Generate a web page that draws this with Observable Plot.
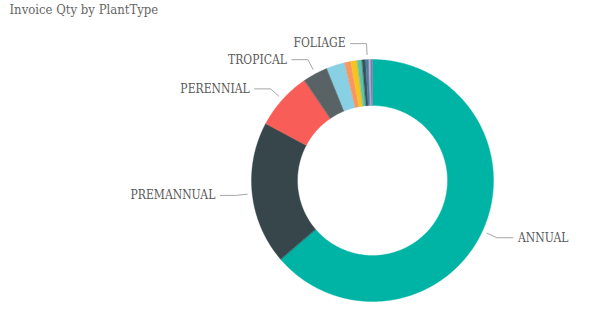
<!DOCTYPE html>
<html><head><meta charset="utf-8">
<script src="https://cdn.jsdelivr.net/npm/d3@7"></script>
<script src="https://cdn.jsdelivr.net/npm/@observablehq/plot@0.6"></script>
<style>body{margin:0;background:#fff} svg{display:block}</style>
</head><body><div id="chart"></div>
<script>
const chartTitle = "Invoice Qty by PlantType";
const plantTypes = ["ANNUAL","PREMANNUAL","PERENNIAL","TROPICAL","TYPE 5","TYPE 6","TYPE 7","TYPE 8","TYPE 9","FOLIAGE","TYPE 11","TYPE 12"];
const invoiceQty = [6369, 1908, 769, 336, 244, 81, 86, 64, 47, 44, 22, 25];
const sliceColors = ["#00b4a5","#37464a","#f95d58","#596366","#88d0e4","#f99463","#f6c41f","#5cc5ad","#3b4f58","#4a7da1","#bfb9de","#7d7ca6"];
const shownLabels = ["ANNUAL","PREMANNUAL","PERENNIAL","TROPICAL","FOLIAGE"];

const FONT = "'DejaVu Serif Condensed','DejaVu Serif',serif";
const R = 121, r0 = 75;
const data = plantTypes.map((name, i) => ({name, value: invoiceQty[i]}));
const arcs = d3.pie().sort(null).value(d => d.value)(data);
const pt = (rho, a) => ({x: rho * Math.sin(a), y: rho * Math.cos(a)});

const polys = [];
arcs.forEach(a => {
  const n = Math.max(2, Math.ceil((a.endAngle - a.startAngle) / 0.01));
  const outer = d3.range(n + 1).map(k => a.startAngle + (a.endAngle - a.startAngle) * k / n);
  outer.forEach(t => polys.push({name: a.data.name, ...pt(R, t)}));
  outer.slice().reverse().forEach(t => polys.push({name: a.data.name, ...pt(r0, t)}));
});

const leaders = [], labels = [];
arcs.filter(a => shownLabels.includes(a.data.name)).forEach(a => {
  const m = (a.startAngle + a.endAngle) / 2;
  const side = Math.sin(m) >= 0 ? 1 : -1;
  const p0 = pt(R + 5, m), p1 = pt(R + 16, m);
  const p2 = {x: p1.x + side * 16, y: p1.y};
  [p0, p1, p2].forEach(p => leaders.push({name: a.data.name, ...p}));
  labels.push({name: a.data.name, side, x: p2.x + side * 5, y: p2.y});
});

const chart = Plot.plot({
  width: 600, height: 311,
  margin: 0,
  x: {domain: [-372, 228], axis: null},
  y: {domain: [-131, 180], axis: null},
  color: {domain: plantTypes, range: sliceColors},
  style: {fontFamily: FONT, background: "#fff"},
  marks: [
    Plot.line(polys, {x: "x", y: "y", z: "name", fill: "name", stroke: "name", strokeWidth: 0.4, curve: "linear-closed"}),
    Plot.line(leaders, {x: "x", y: "y", z: "name", stroke: "#a6a6a6", strokeWidth: 1}),
    Plot.text(labels.filter(d => d.side > 0), {x: "x", y: "y", text: "name", textAnchor: "start", fontSize: 12, fill: "#595959"}),
    Plot.text(labels.filter(d => d.side < 0), {x: "x", y: "y", text: "name", textAnchor: "end", fontSize: 12, fill: "#595959"}),
    Plot.text([chartTitle], {frameAnchor: "top-left", dx: 9, dy: 4, lineAnchor: "top", textAnchor: "start", fontSize: 13, fill: "#666"})
  ]
});
document.getElementById("chart").append(chart);
</script>
</body></html>
